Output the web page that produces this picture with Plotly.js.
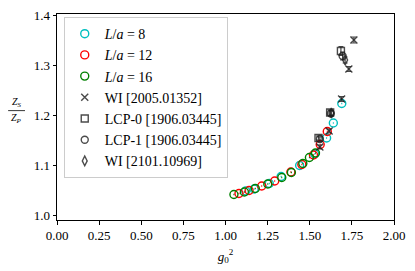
<!DOCTYPE html>
<html><head><meta charset="utf-8">
<script src="https://cdn.plot.ly/plotly-3.0.1.min.js"></script>
<style>html,body{margin:0;padding:0;background:#fff}#c{width:415px;height:271px}</style>
</head><body><div id="c"></div>
<script>
// L/a = 8
const g8 = [1.12, 1.17, 1.26, 1.33, 1.44, 1.53, 1.60, 1.64, 1.69];
const z8 = [1.048, 1.052, 1.063, 1.077, 1.099, 1.122, 1.154, 1.184, 1.223];
// L/a = 12
const g12 = [1.08, 1.14, 1.215, 1.292, 1.388, 1.453, 1.522, 1.562, 1.604];
const z12 = [1.043, 1.049, 1.058, 1.068, 1.086, 1.101, 1.120, 1.141, 1.167];
// L/a = 16
const g16 = [1.05, 1.112, 1.177, 1.251, 1.334, 1.391, 1.459, 1.498, 1.534];
const z16 = [1.041, 1.046, 1.053, 1.062, 1.075, 1.085, 1.103, 1.115, 1.124];
// WI [2005.01352]
const gWI1 = [1.56, 1.615, 1.689, 1.732, 1.762];
const zWI1 = [1.136, 1.168, 1.232, 1.292, 1.350];
const eWI1 = [0.004, 0.004, 0.005, 0.005, 0.006];
// LCP-0 [1906.03445]
const gL0 = [1.552, 1.621, 1.685];
const zL0 = [1.154, 1.205, 1.328];
const eL0 = [0.004, 0.005, 0.009];
// LCP-1 [1906.03445]
const gL1 = [1.56, 1.625, 1.695];
const zL1 = [1.152, 1.203, 1.318];
const eL1 = [0.004, 0.005, 0.008];
// WI [2101.10969]
const gWI2 = [1.628, 1.71];
const zWI2 = [1.204, 1.31];
const eWI2 = [0.005, 0.006];

const names = ['<i>L</i>/<i>a</i> = 8', '<i>L</i>/<i>a</i> = 12', '<i>L</i>/<i>a</i> = 16',
  'WI [2005.01352]', 'LCP-0 [1906.03445]', 'LCP-1 [1906.03445]', 'WI [2101.10969]'];

const dark = 'rgba(30,30,30,0.8)';
function circ(x, y, col, name) {
  return {x: x, y: y, name: name, type: 'scatter', mode: 'markers',
    marker: {symbol: 'circle-open', size: 8, color: col, line: {width: 1.4, color: col}},
    error_y: {type: 'constant', value: 0.0015, color: col, thickness: 1, width: 0}};
}
function blk(x, y, e, sym, size, name) {
  return {x: x, y: y, name: name, type: 'scatter', mode: 'markers',
    marker: {symbol: sym, size: size, color: dark, line: {width: 1.4, color: dark}},
    error_y: {type: 'data', array: e, color: dark, thickness: 1.2, width: 2.5}};
}
const data = [
  circ(g8, z8, '#00BFBF', names[0]),
  circ(g12, z12, '#FF0000', names[1]),
  circ(g16, z16, '#008000', names[2]),
  blk(gWI1, zWI1, eWI1, 'x-thin-open', 7, names[3]),
  blk(gL0, zL0, eL0, 'square-open', 7, names[4]),
  blk(gL1, zL1, eL1, 'circle-open', 7, names[5]),
  blk(gWI2, zWI2, eWI2, 'diamond-tall-open', 7, names[6])
];
const fam = 'Liberation Serif';
const font = {family: fam, size: 13, color: '#000'};
const layout = {
  width: 415, height: 271,
  margin: {l: 57, r: 21, t: 14, b: 51},
  paper_bgcolor: '#fff', plot_bgcolor: '#fff',
  font: font,
  showlegend: true,
  legend: {x: 0.02, y: 0.985, xanchor: 'left', yanchor: 'top',
    bgcolor: 'rgba(255,255,255,0.8)', bordercolor: '#cccccc', borderwidth: 1,
    font: {family: fam, size: 14, color: '#000'}, tracegroupgap: 0},
  xaxis: {range: [0, 2], tickvals: [0, 0.25, 0.5, 0.75, 1, 1.25, 1.5, 1.75, 2],
    tickformat: '.2f', showgrid: false, zeroline: false, showline: true, mirror: true,
    linecolor: '#000', linewidth: 1, ticks: 'outside', ticklen: 3.5, tickcolor: '#000',
    tickfont: {family: fam, size: 13, color: '#000'},
    title: {text: '<i>g</i><sub>0</sub><sup>2</sup>', standoff: 9, font: {family: fam, size: 13, color: '#000'}}},
  yaxis: {range: [0.99, 1.402], tickvals: [1.0, 1.1, 1.2, 1.3, 1.4], tickformat: '.1f',
    showgrid: false, zeroline: false, showline: true, mirror: true,
    linecolor: '#000', linewidth: 1, ticks: 'outside', ticklen: 3.5, tickcolor: '#000',
    tickfont: {family: fam, size: 13, color: '#000'}},
  annotations: [
    {xref: 'paper', yref: 'paper', x: -0.12, y: 0.535, xanchor: 'center', yanchor: 'bottom',
      text: '<i>Z<sub>S</sub></i>', showarrow: false, borderpad: 0,
      font: {family: fam, size: 10, color: '#000'}},
    {xref: 'paper', yref: 'paper', x: -0.12, y: 0.528, xanchor: 'center', yanchor: 'top',
      text: '<i>Z<sub>P</sub></i>', showarrow: false, borderpad: 0,
      font: {family: fam, size: 10, color: '#000'}}
  ],
  shapes: [
    {type: 'line', xref: 'paper', yref: 'paper', x0: -0.145, x1: -0.095, y0: 0.531, y1: 0.531,
      line: {color: '#000', width: 0.8}}
  ]
};
Plotly.newPlot('c', data, layout, {displayModeBar: false, staticPlot: true});
</script></body></html>
